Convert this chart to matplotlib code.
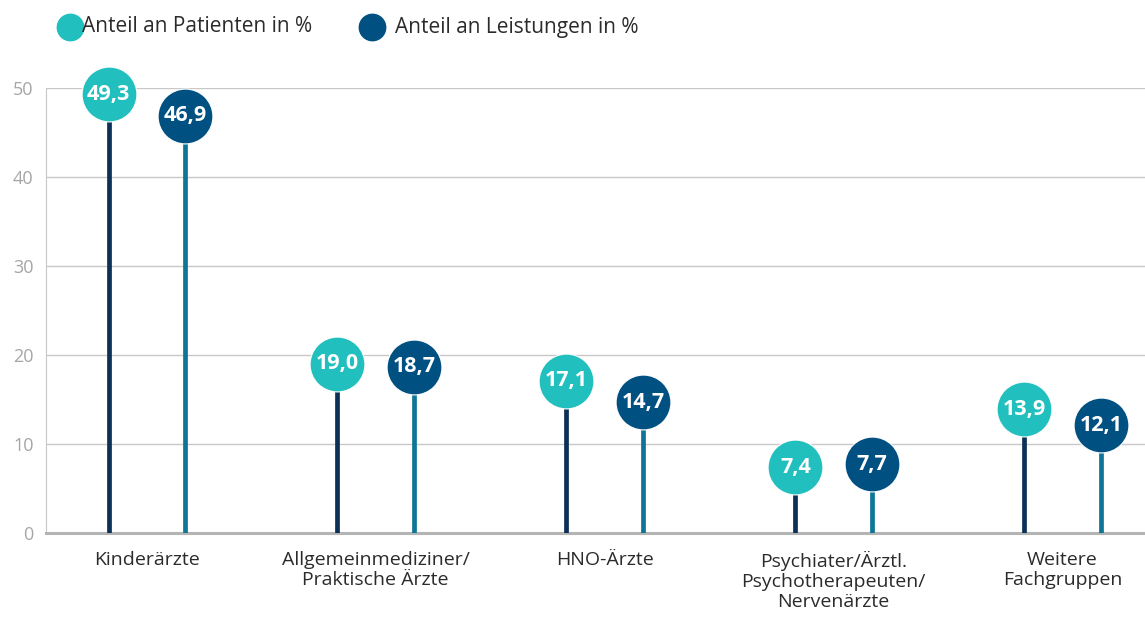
import matplotlib.pyplot as plt
import numpy as np

plt.rcParams['font.family'] = ['Open Sans', 'DejaVu Sans']

categories = ["Kinderärzte", "Allgemeinmediziner/\nPraktische Ärzte", "HNO-Ärzte",
              "Psychiater/Ärztl.\nPsychotherapeuten/\nNervenärzte", "Weitere\nFachgruppen"]
patienten = [49.3, 19.0, 17.1, 7.4, 13.9]
leistungen = [46.9, 18.7, 14.7, 7.7, 12.1]
series_names = ["Anteil an Patienten in %", "Anteil an Leistungen in %"]

circle_colors = ["#21bfbd", "#005082"]
stem_colors = ["#0b3158", "#0f7598"]

fig = plt.figure(figsize=(11.45, 6.17), dpi=100)
ax = fig.add_axes([46 / 1145, 84 / 617, 1099 / 1145, 445 / 617])

x = np.arange(len(categories))
offset = 0.167
r_data = 27 / 8.9  # circle radius in data units (y)

for k, (vals, dx) in enumerate([(patienten, -offset), (leistungen, offset)]):
    for xi, v in zip(x + dx, vals):
        ax.plot([xi, xi], [0, v - r_data], color=stem_colors[k], lw=3.4,
                solid_capstyle="butt", zorder=3)
        ax.plot(xi, v, "o", ms=39.5, color=circle_colors[k], mec="white",
                mew=0.8, zorder=4, clip_on=False)
        ax.text(xi, v, f"{v:.1f}".replace(".", ","), color="white", fontsize=15.5,
                fontweight="bold", ha="center", va="center", zorder=5)

ax.set_xlim(-0.44, 4.36)
ax.set_ylim(0, 50)
ax.set_yticks([0, 10, 20, 30, 40, 50])
ax.grid(axis="y", color="#c8c8c8", lw=1)
ax.set_axisbelow(True)
ax.set_xticks(x)
ax.set_xticklabels(categories, fontsize=14, color="#2b2b2b", linespacing=1.15)
ax.tick_params(axis="x", length=0, pad=13)
ax.tick_params(axis="y", length=0, labelsize=13, labelcolor="#a6a6a6", pad=9)
for s in ["top", "right"]:
    ax.spines[s].set_visible(False)
ax.spines["left"].set_color("#c8c8c8")
ax.spines["bottom"].set_color("#b4b4b4")
ax.spines["bottom"].set_linewidth(2.2)

# legend
for k, (lx, tx) in enumerate([(70, 82), (372, 395)]):
    fig.add_artist(plt.Line2D([lx / 1145], [1 - 27 / 617], marker="o", ms=19,
                              color=circle_colors[k], lw=0,
                              transform=fig.transFigure))
    fig.text(tx / 1145, 1 - 27 / 617, series_names[k], fontsize=15,
             color="#2b2b2b", va="center", ha="left")

fig.savefig("out.png", dpi=100)
